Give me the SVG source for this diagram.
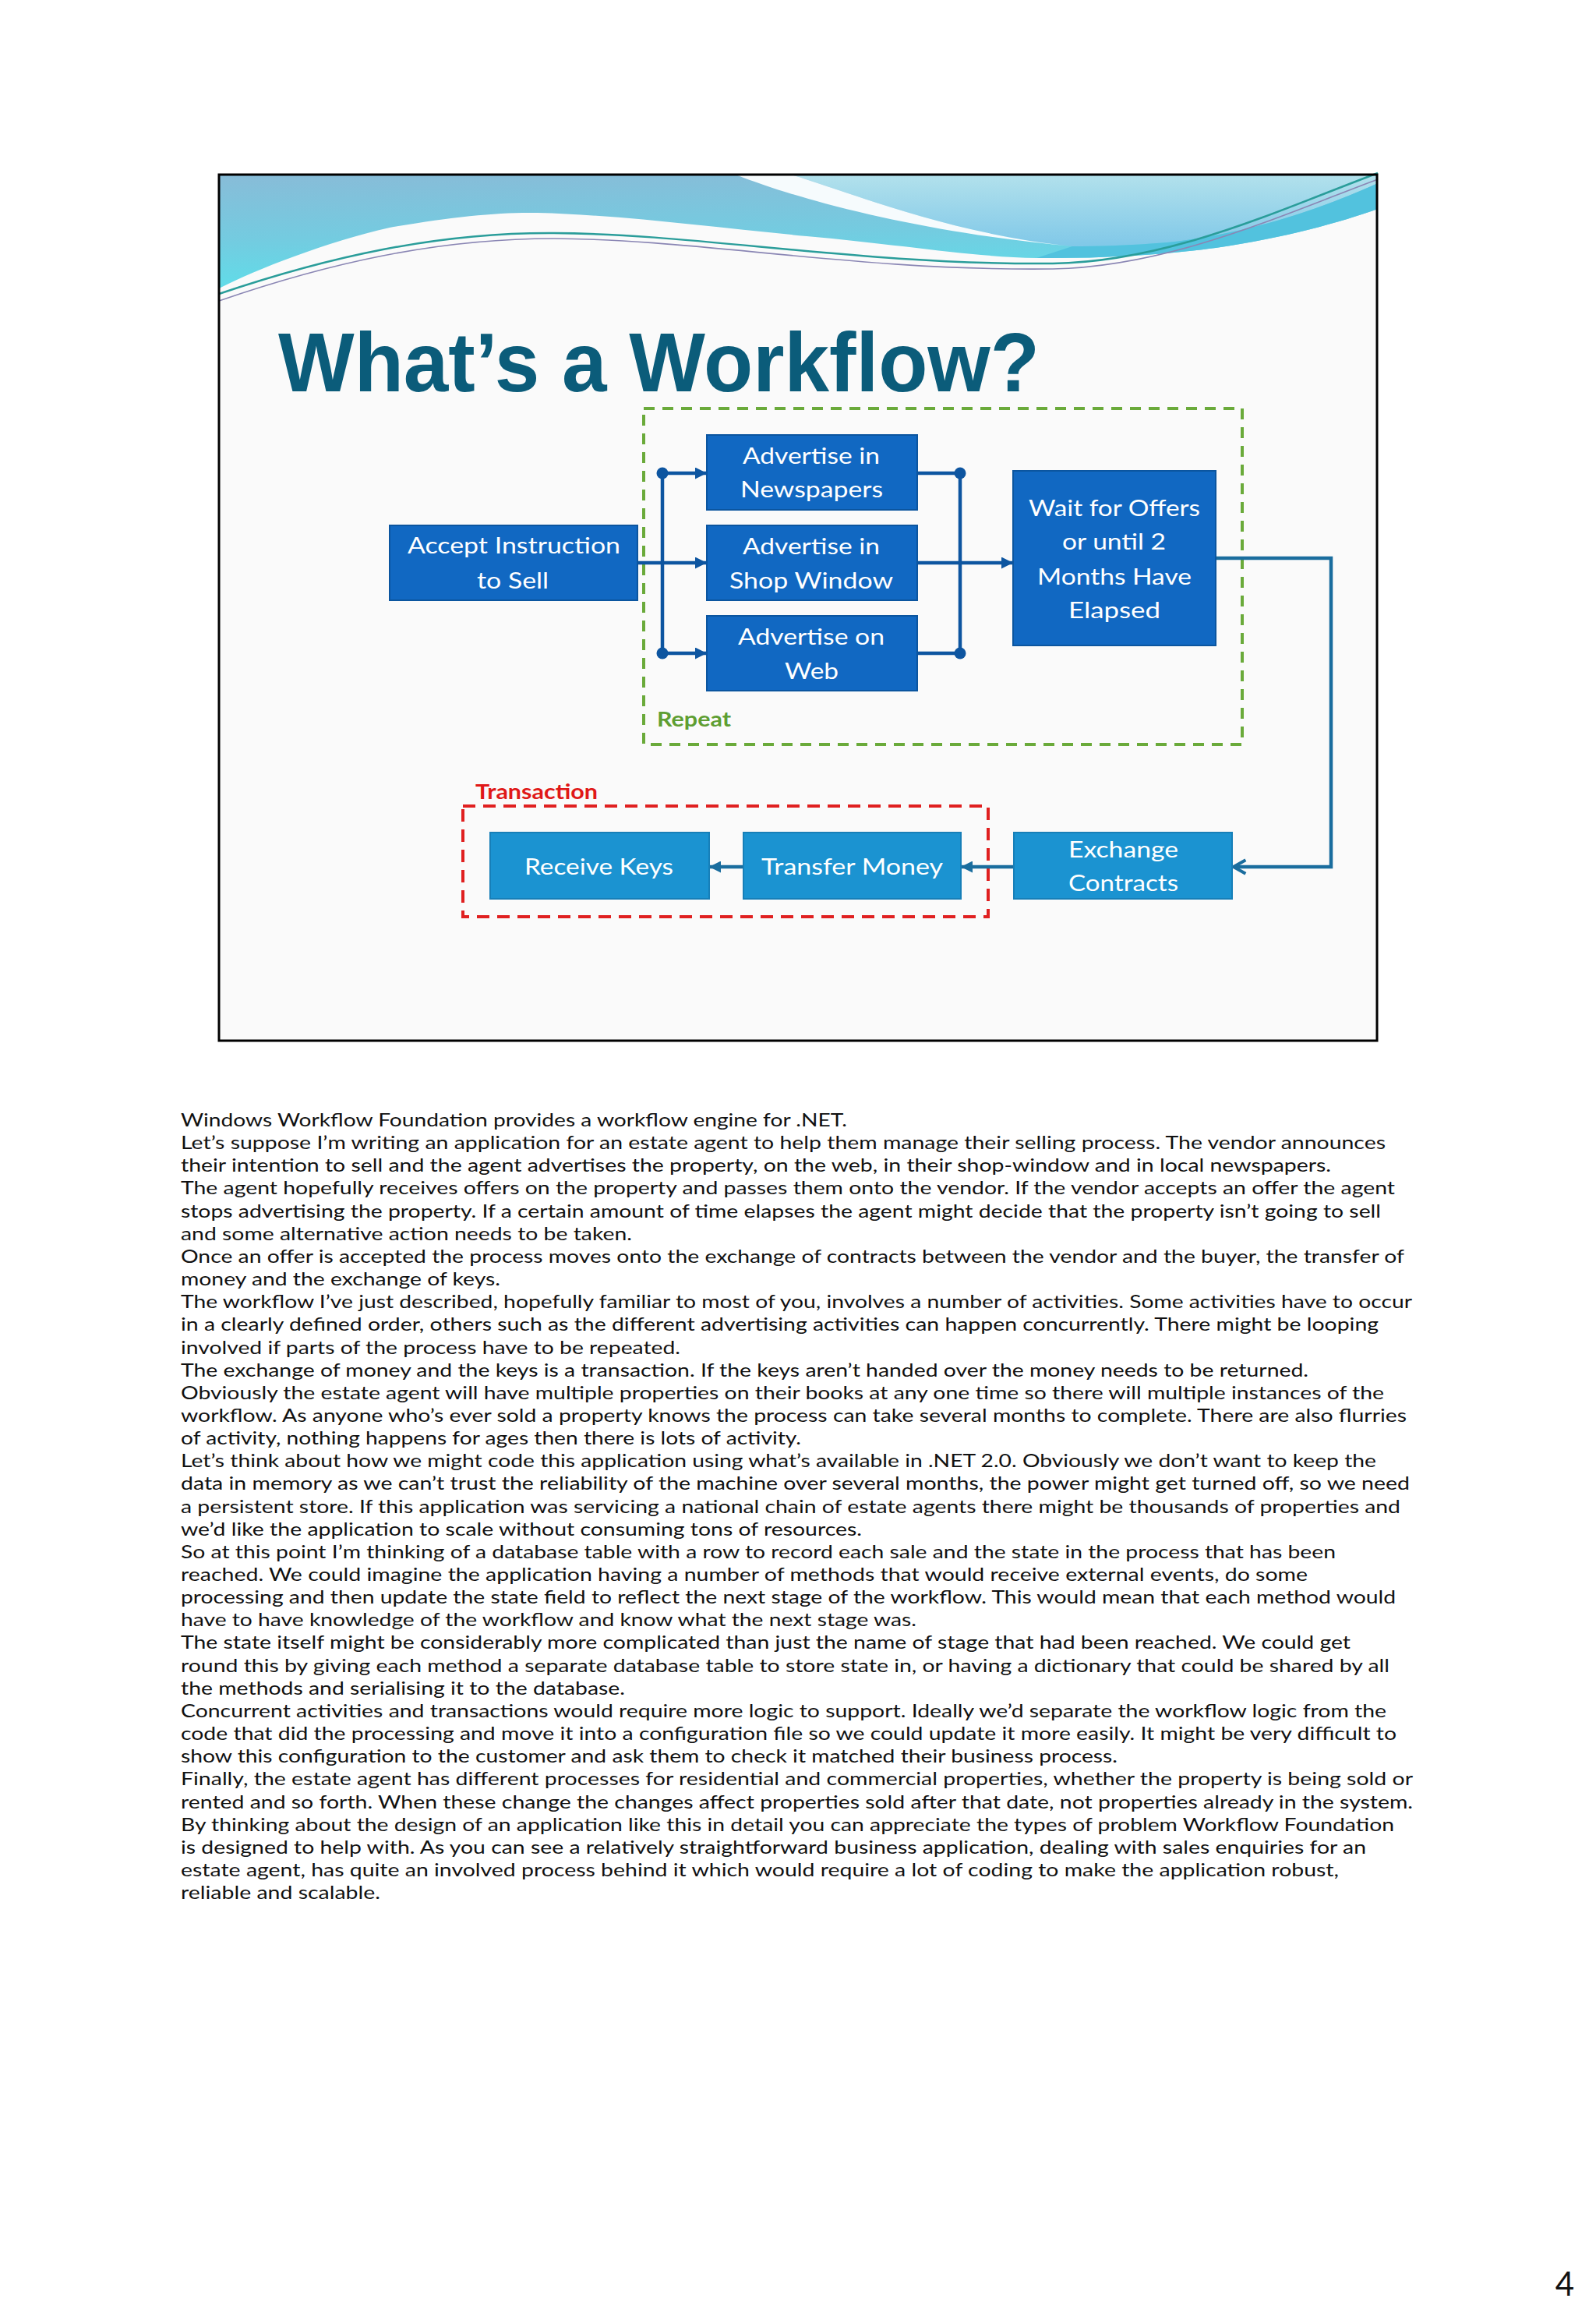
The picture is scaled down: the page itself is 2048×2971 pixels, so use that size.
<svg xmlns="http://www.w3.org/2000/svg" width="2048" height="2971" viewBox="0 0 2048 2971">
<style>
.body{font-family:Lato,"Open Sans","Liberation Sans",sans-serif;font-size:23.5px;fill:#111}
.lbl{font-family:Lato,"Open Sans","Liberation Sans",sans-serif;font-size:29.5px;fill:#fff}
.up{fill:#1168c2;stroke:#0b559f;stroke-width:2}
.lo{fill:#1b93d1;stroke:#177fb8;stroke-width:2}
.cu{fill:none;stroke:#0d55a0;stroke-width:4.5}
.cl{fill:none;stroke:#1a6d9e;stroke-width:4.5}
.dot{fill:#0d55a0}
</style>
<defs>
<linearGradient id="gA" x1="0" y1="0" x2="0.15" y2="1">
<stop offset="0" stop-color="#88bcd8"/>
<stop offset="0.55" stop-color="#74cbe0"/>
<stop offset="1" stop-color="#5fdde9"/>
</linearGradient>
<linearGradient id="gB" x1="0" y1="0" x2="0" y2="1">
<stop offset="0" stop-color="#b2e1ec"/>
<stop offset="1" stop-color="#80c8e8"/>
</linearGradient>
<marker id="arr" viewBox="0 0 10 10" refX="10" refY="5" markerWidth="15" markerHeight="15" markerUnits="userSpaceOnUse" orient="auto">
<path d="M0,0 L10,5 L0,10 z" fill="#0d55a0"/>
</marker>
<marker id="chev" viewBox="0 0 10 10" refX="9" refY="5" markerWidth="22" markerHeight="26" markerUnits="userSpaceOnUse" orient="auto">
<path d="M2,1 L9,5 L2,9" fill="none" stroke="#1a6d9e" stroke-width="1.8"/>
</marker>
<marker id="arrl" viewBox="0 0 10 10" refX="10" refY="5" markerWidth="15" markerHeight="15" markerUnits="userSpaceOnUse" orient="auto">
<path d="M0,0 L10,5 L0,10 z" fill="#1a6d9e"/>
</marker>
</defs>
<rect width="2048" height="2971" fill="#fff"/>

<g id="slide">
<rect x="281" y="224" width="1486" height="1111" fill="#fafafa"/>
<path d="M281,224 H1768 V268 C1720,285 1650,305 1560,318 C1500,326 1420,332 1330,331 C1250,330 1150,313 1035,303 C920,292 800,276 690,273 C640,272 580,278 500,292 C420,310 330,345 281,370 Z" fill="url(#gA)"/>
<path d="M1015,224 H1768 V235 C1690,270 1600,300 1498,311 C1450,315 1410,316 1376,316 C1220,300 1100,250 1015,224 Z" fill="url(#gB)"/>
<path d="M1376,316 C1410,316 1450,315 1498,311 C1600,300 1690,270 1768,235 V268 C1720,285 1650,305 1560,318 C1500,326 1420,332 1330,331 Z" fill="#52c2de"/>
<path d="M944,224 C1040,262 1200,300 1376,316 C1220,300 1100,250 1015,224 Z" fill="#f6fbfd"/>
<path d="M281,377 C420,330 560,298 711,299 C900,300 1100,340 1351,338 C1500,336 1640,270 1768,222" fill="none" stroke="#2a9d9a" stroke-width="2.5"/>
<path d="M281,386 C420,338 560,306 711,306 C900,307 1100,348 1351,345 C1500,342 1640,278 1768,230" fill="none" stroke="#8a86b4" stroke-width="1.6"/>
<rect x="281" y="224" width="1486" height="1111" fill="none" stroke="#000" stroke-width="3"/>
<text x="357" y="502" font-family="'Liberation Sans',Arial,sans-serif" font-weight="bold" font-size="107" fill="#0b5c7a" textLength="977" lengthAdjust="spacingAndGlyphs">What’s a Workflow?</text>
</g>

<g id="group-repeat">
<rect x="826" y="524" width="768" height="431" fill="none" stroke="#6aaa3a" stroke-width="4" stroke-dasharray="14 10"/>
<text x="843" y="932" font-family="Lato,'Open Sans','Liberation Sans',sans-serif" font-weight="bold" font-size="27" fill="#5e9e32" textLength="95" lengthAdjust="spacingAndGlyphs">Repeat</text>
</g>
<g id="group-transaction">
<rect x="594" y="1034" width="674" height="142" fill="none" stroke="#e02020" stroke-width="4" stroke-dasharray="16 10"/>
<text x="610" y="1025" font-family="Lato,'Open Sans','Liberation Sans',sans-serif" font-weight="bold" font-size="27" fill="#e01818" textLength="157" lengthAdjust="spacingAndGlyphs">Transaction</text>
</g>

<g id="connectors">
<path class="cu" d="M818,722 H907" marker-end="url(#arr)"/>
<path class="cu" d="M850,607 V838"/>
<path class="cu" d="M850,607 H907" marker-end="url(#arr)"/>
<path class="cu" d="M850,838 H907" marker-end="url(#arr)"/>
<path class="cu" d="M1177,607 H1232 V838 H1177"/>
<path class="cu" d="M1177,722 H1300" marker-end="url(#arr)"/>
<circle class="dot" cx="850" cy="607" r="7.5"/>
<circle class="dot" cx="850" cy="838" r="7.5"/>
<circle class="dot" cx="1232" cy="607" r="7.5"/>
<circle class="dot" cx="1232" cy="838" r="7.5"/>
<path class="cl" d="M1560,716 H1708 V1112 H1583" marker-end="url(#chev)"/>
<path class="cl" d="M1301,1112 H1233" marker-end="url(#arrl)"/>
<path class="cl" d="M954,1112 H910" marker-end="url(#arrl)"/>
</g>

<g id="node-accept">
<rect class="up" x="500" y="674" width="318" height="96"/>
<text class="lbl" x="523" y="710" textLength="273" lengthAdjust="spacingAndGlyphs">Accept Instruction</text>
<text class="lbl" x="612" y="755" textLength="92" lengthAdjust="spacingAndGlyphs">to Sell</text>
</g>
<g id="node-newspapers">
<rect class="up" x="907" y="558" width="270" height="96"/>
<text class="lbl" x="953" y="595" textLength="176" lengthAdjust="spacingAndGlyphs">Advertise in</text>
<text class="lbl" x="950" y="638" textLength="183" lengthAdjust="spacingAndGlyphs">Newspapers</text>
</g>
<g id="node-shop">
<rect class="up" x="907" y="674" width="270" height="96"/>
<text class="lbl" x="953" y="711" textLength="176" lengthAdjust="spacingAndGlyphs">Advertise in</text>
<text class="lbl" x="936" y="755" textLength="210" lengthAdjust="spacingAndGlyphs">Shop Window</text>
</g>
<g id="node-web">
<rect class="up" x="907" y="790" width="270" height="96"/>
<text class="lbl" x="947" y="827" textLength="188" lengthAdjust="spacingAndGlyphs">Advertise on</text>
<text class="lbl" x="1007" y="871" textLength="69" lengthAdjust="spacingAndGlyphs">Web</text>
</g>
<g id="node-wait">
<rect class="up" x="1300" y="604" width="260" height="224"/>
<text class="lbl" x="1320" y="662" textLength="220" lengthAdjust="spacingAndGlyphs">Wait for Offers</text>
<text class="lbl" x="1363" y="705" textLength="133" lengthAdjust="spacingAndGlyphs">or until 2</text>
<text class="lbl" x="1331" y="750" textLength="198" lengthAdjust="spacingAndGlyphs">Months Have</text>
<text class="lbl" x="1371" y="793" textLength="118" lengthAdjust="spacingAndGlyphs">Elapsed</text>
</g>
<g id="node-exchange">
<rect class="lo" x="1301" y="1068" width="280" height="85"/>
<text class="lbl" x="1371" y="1100" textLength="141" lengthAdjust="spacingAndGlyphs">Exchange</text>
<text class="lbl" x="1371" y="1143" textLength="141" lengthAdjust="spacingAndGlyphs">Contracts</text>
</g>
<g id="node-transfer">
<rect class="lo" x="954" y="1068" width="279" height="85"/>
<text class="lbl" x="977" y="1122" textLength="233" lengthAdjust="spacingAndGlyphs">Transfer Money</text>
</g>
<g id="node-receive">
<rect class="lo" x="629" y="1068" width="281" height="85"/>
<text class="lbl" x="673" y="1122" textLength="191" lengthAdjust="spacingAndGlyphs">Receive Keys</text>
</g>

<g id="notes" class="body">
<text x="232" y="1445" textLength="855" lengthAdjust="spacingAndGlyphs">Windows Workflow Foundation provides a workflow engine for .NET.</text>
<text x="232" y="1474.15" textLength="1546" lengthAdjust="spacingAndGlyphs">Let’s suppose I’m writing an application for an estate agent to help them manage their selling process. The vendor announces</text>
<text x="232" y="1503.3" textLength="1476" lengthAdjust="spacingAndGlyphs">their intention to sell and the agent advertises the property, on the web, in their shop-window and in local newspapers.</text>
<text x="232" y="1532.45" textLength="1558" lengthAdjust="spacingAndGlyphs">The agent hopefully receives offers on the property and passes them onto the vendor. If the vendor accepts an offer the agent</text>
<text x="232" y="1561.6" textLength="1540" lengthAdjust="spacingAndGlyphs">stops advertising the property. If a certain amount of time elapses the agent might decide that the property isn’t going to sell</text>
<text x="232" y="1590.75" textLength="579" lengthAdjust="spacingAndGlyphs">and some alternative action needs to be taken.</text>
<text x="232" y="1619.9" textLength="1570" lengthAdjust="spacingAndGlyphs">Once an offer is accepted the process moves onto the exchange of contracts between the vendor and the buyer, the transfer of</text>
<text x="232" y="1649.05" textLength="410" lengthAdjust="spacingAndGlyphs">money and the exchange of keys.</text>
<text x="232" y="1678.2" textLength="1580" lengthAdjust="spacingAndGlyphs">The workflow I’ve just described, hopefully familiar to most of you, involves a number of activities. Some activities have to occur</text>
<text x="232" y="1707.35" textLength="1537" lengthAdjust="spacingAndGlyphs">in a clearly defined order, others such as the different advertising activities can happen concurrently. There might be looping</text>
<text x="232" y="1736.5" textLength="641" lengthAdjust="spacingAndGlyphs">involved if parts of the process have to be repeated.</text>
<text x="232" y="1765.65" textLength="1447" lengthAdjust="spacingAndGlyphs">The exchange of money and the keys is a transaction. If the keys aren’t handed over the money needs to be returned.</text>
<text x="232" y="1794.8" textLength="1544" lengthAdjust="spacingAndGlyphs">Obviously the estate agent will have multiple properties on their books at any one time so there will multiple instances of the</text>
<text x="232" y="1823.95" textLength="1573" lengthAdjust="spacingAndGlyphs">workflow. As anyone who’s ever sold a property knows the process can take several months to complete. There are also flurries</text>
<text x="232" y="1853.1" textLength="796" lengthAdjust="spacingAndGlyphs">of activity, nothing happens for ages then there is lots of activity.</text>
<text x="232" y="1882.25" textLength="1534" lengthAdjust="spacingAndGlyphs">Let’s think about how we might code this application using what’s available in .NET 2.0. Obviously we don’t want to keep the</text>
<text x="232" y="1911.4" textLength="1577" lengthAdjust="spacingAndGlyphs">data in memory as we can’t trust the reliability of the machine over several months, the power might get turned off, so we need</text>
<text x="232" y="1940.55" textLength="1565" lengthAdjust="spacingAndGlyphs">a persistent store. If this application was servicing a national chain of estate agents there might be thousands of properties and</text>
<text x="232" y="1969.7" textLength="874" lengthAdjust="spacingAndGlyphs">we’d like the application to scale without consuming tons of resources.</text>
<text x="232" y="1998.85" textLength="1482" lengthAdjust="spacingAndGlyphs">So at this point I’m thinking of a database table with a row to record each sale and the state in the process that has been</text>
<text x="232" y="2028" textLength="1446" lengthAdjust="spacingAndGlyphs">reached. We could imagine the application having a number of methods that would receive external events, do some</text>
<text x="232" y="2057.15" textLength="1559" lengthAdjust="spacingAndGlyphs">processing and then update the state field to reflect the next stage of the workflow. This would mean that each method would</text>
<text x="232" y="2086.3" textLength="944" lengthAdjust="spacingAndGlyphs">have to have knowledge of the workflow and know what the next stage was.</text>
<text x="232" y="2115.45" textLength="1501" lengthAdjust="spacingAndGlyphs">The state itself might be considerably more complicated than just the name of stage that had been reached. We could get</text>
<text x="232" y="2144.6" textLength="1551" lengthAdjust="spacingAndGlyphs">round this by giving each method a separate database table to store state in, or having a dictionary that could be shared by all</text>
<text x="232" y="2173.75" textLength="570" lengthAdjust="spacingAndGlyphs">the methods and serialising it to the database.</text>
<text x="232" y="2202.9" textLength="1547" lengthAdjust="spacingAndGlyphs">Concurrent activities and transactions would require more logic to support. Ideally we’d separate the workflow logic from the</text>
<text x="232" y="2232.05" textLength="1560" lengthAdjust="spacingAndGlyphs">code that did the processing and move it into a configuration file so we could update it more easily. It might be very difficult to</text>
<text x="232" y="2261.2" textLength="1202" lengthAdjust="spacingAndGlyphs">show this configuration to the customer and ask them to check it matched their business process.</text>
<text x="232" y="2290.35" textLength="1581" lengthAdjust="spacingAndGlyphs">Finally, the estate agent has different processes for residential and commercial properties, whether the property is being sold or</text>
<text x="232" y="2319.5" textLength="1581" lengthAdjust="spacingAndGlyphs">rented and so forth. When these change the changes affect properties sold after that date, not properties already in the system.</text>
<text x="232" y="2348.65" textLength="1557" lengthAdjust="spacingAndGlyphs">By thinking about the design of an application like this in detail you can appreciate the types of problem Workflow Foundation</text>
<text x="232" y="2377.8" textLength="1521" lengthAdjust="spacingAndGlyphs">is designed to help with. As you can see a relatively straightforward business application, dealing with sales enquiries for an</text>
<text x="232" y="2406.95" textLength="1486" lengthAdjust="spacingAndGlyphs">estate agent, has quite an involved process behind it which would require a lot of coding to make the application robust,</text>
<text x="232" y="2436.1" textLength="256" lengthAdjust="spacingAndGlyphs">reliable and scalable.</text>
</g>
<text id="page-number" x="2008" y="2945" text-anchor="middle" font-family="Lato,'Open Sans','Liberation Sans',sans-serif" font-size="42" fill="#111">4</text>
</svg>
